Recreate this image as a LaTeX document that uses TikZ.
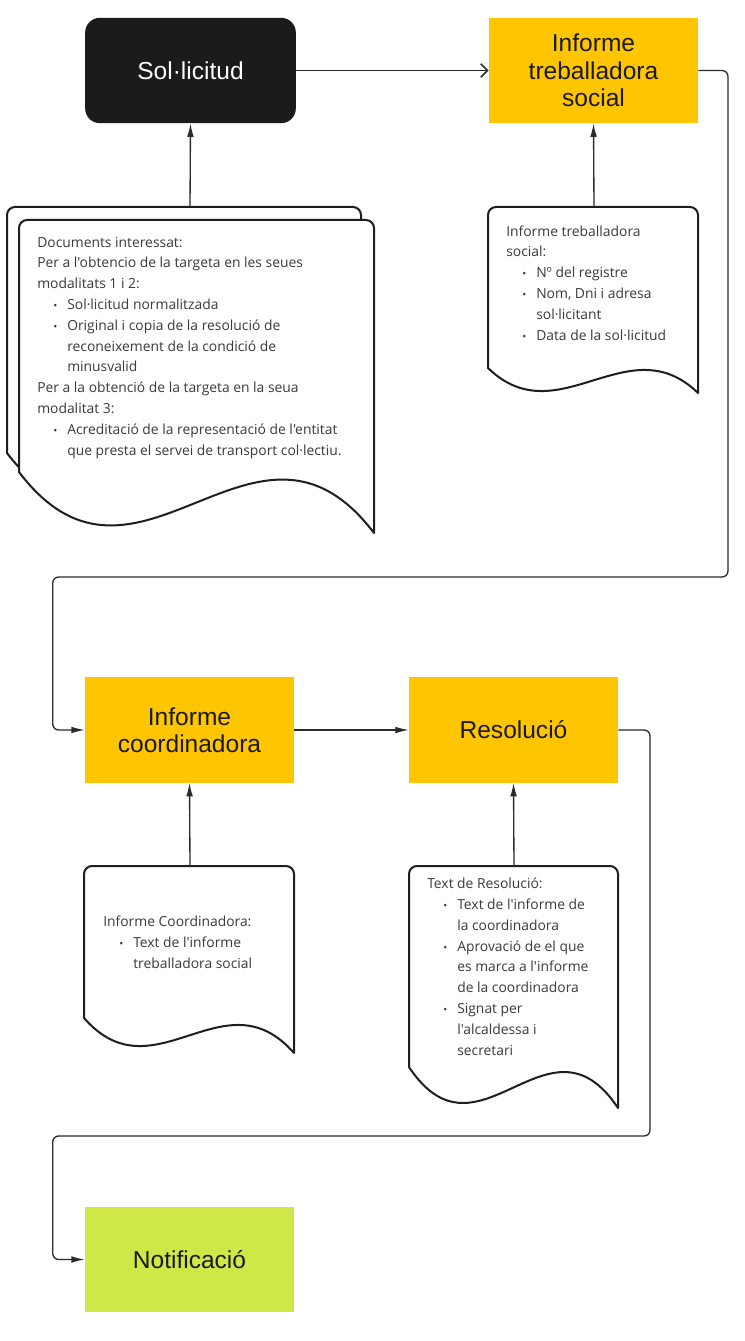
\documentclass[tikz,border=0pt]{standalone}
\usepackage{fontspec}
\newfontfamily\docfont{Open Sans}
\newfontfamily\boxfont{Liberation Sans}
\usepackage{xcolor}
\usetikzlibrary{arrows.meta}

\definecolor{boxblack}{HTML}{1B1B1B}
\definecolor{boxyellow}{HTML}{FFC501}
\definecolor{boxgreen}{HTML}{D0E847}
\definecolor{boxtext}{HTML}{1A1A1A}
\definecolor{doctext}{HTML}{3A3A3A}
\definecolor{docline}{HTML}{1E1E1E}
\definecolor{flowline}{HTML}{2A2A2A}

% bullet line and continuation line
\newcommand{\li}{\hspace*{12pt}\makebox[10.5pt][l]{\footnotesize•}}
\newcommand{\lc}{\hspace*{22.5pt}}

% page shape: left x, right x, top y, left bottom y, right bottom y, wave
\newcommand{\docpage}[6]{%
  \draw[docshape] (#1,#4) -- (#1,#3+8) arc[start angle=180,end angle=270,radius=8]
    -- (#2-8,#3) arc[start angle=270,end angle=360,radius=8] -- (#2,#5)
    .. controls ({#1+2*(#2-#1)/3},#5-#6) and ({#1+(#2-#1)/3},#4+#6) .. (#1,#4) -- cycle;}

\tikzset{
  procbox/.style={minimum width=156.75pt, minimum height=79pt, inner sep=0pt,
    align=center, text=boxtext, font=\boxfont\fontsize{18.4}{20.6}\selectfont},
  docshape/.style={draw=docline, line width=1.5pt, fill=white, line join=round},
  doctxt/.style={inner sep=0pt, align=left, text=doctext, anchor=base west,
    font=\docfont\fontsize{10.4}{15.6}\selectfont},
  flow/.style={draw=flowline, line width=1pt, -{Latex[length=10pt,width=5pt]}},
  openflow/.style={draw=flowline, line width=1pt, -{Straight Barb[length=5pt,width=10pt,line width=1.3pt]}}
}

\begin{document}
\begin{tikzpicture}[x=0.75pt, y=-0.75pt]
  \useasboundingbox (0,0) rectangle (745,1341);

  % main steps
  \node[procbox, fill=boxblack, text=white, minimum width=158pt, rounded corners=11pt] (sol) at (190.5,70.5) {Sol·licitud};
  \node[procbox, fill=boxyellow] (its) at (593.5,70.5) {Informe\\treballadora\\social};
  \node[procbox, fill=boxyellow] (ico) at (189.5,730) {Informe\\coordinadora};
  \node[procbox, fill=boxyellow] (res) at (513.5,730) {Resolució};
  \node[procbox, fill=boxgreen] (notif) at (189.5,1259.5) {Notificació};

  % documents
  \docpage{7}{361}{207}{453}{470}{156}
  \docpage{19}{374}{220}{472}{533}{156}
  \docpage{488}{698}{207}{368}{393}{68}
  \docpage{84}{294}{866}{1018}{1053}{80}
  \docpage{409}{618}{866}{1067}{1108}{105}

  \coordinate (dsol) at (190,207);
  \coordinate (dits) at (594,207);
  \coordinate (dico) at (190,866);
  \coordinate (dres) at (514,866);

  % texts sit on the baseline of their last line
  \node[doctxt] (tsol) at (37,455) {Documents interessat:\\
    Per a l'obtencio de la targeta en les seues\\
    modalitats 1 i 2:\\
    \li Sol·licitud normalitzada\\
    \li Original i copia de la resolució de\\
    \lc reconeixement de la condició de\\
    \lc minusvalid\\
    Per a la obtenció de la targeta en la seua\\
    modalitat 3:\\
    \li Acreditació de la representació de l'entitat\\
    \lc que presta el servei de transport col·lectiu.};
  \node[doctxt] (tits) at (506,340) {Informe treballadora\\
    social:\\
    \li Nº del registre\\
    \li Nom, Dni i adresa\\
    \lc sol·licitant\\
    \li Data de la sol·licitud};
  \node[doctxt] (tico) at (103,968) {Informe Coordinadora:\\
    \li Text de l'informe\\
    \lc treballadora social};
  \node[doctxt] (tres) at (427,1055) {Text de Resolució:\\
    \li Text de l'informe de\\
    \lc la coordinadora\\
    \li Aprovació de el que\\
    \lc es marca a l'informe\\
    \lc de la coordinadora\\
    \li Signat per\\
    \lc l'alcaldessa i\\
    \lc secretari};

  % connectors
  \draw[openflow] (sol.east) -- (its.west);
  \draw[flow] (dsol) -- (sol.south);
  \draw[flow] (dits) -- (its.south);
  \draw[flow] (dico) -- (ico.south);
  \draw[flow] (dres) -- (res.south);
  \draw[flow] (ico.east) -- (res.west);
  \draw[flow, rounded corners=4.5pt] (its.east) -| (728,577) -| ([xshift=-24pt]ico.west) -- (ico.west);
  \draw[flow, rounded corners=4.5pt] (res.east) -| (650,1136) -| ([xshift=-24pt]notif.west) -- (notif.west);
\end{tikzpicture}
\end{document}
